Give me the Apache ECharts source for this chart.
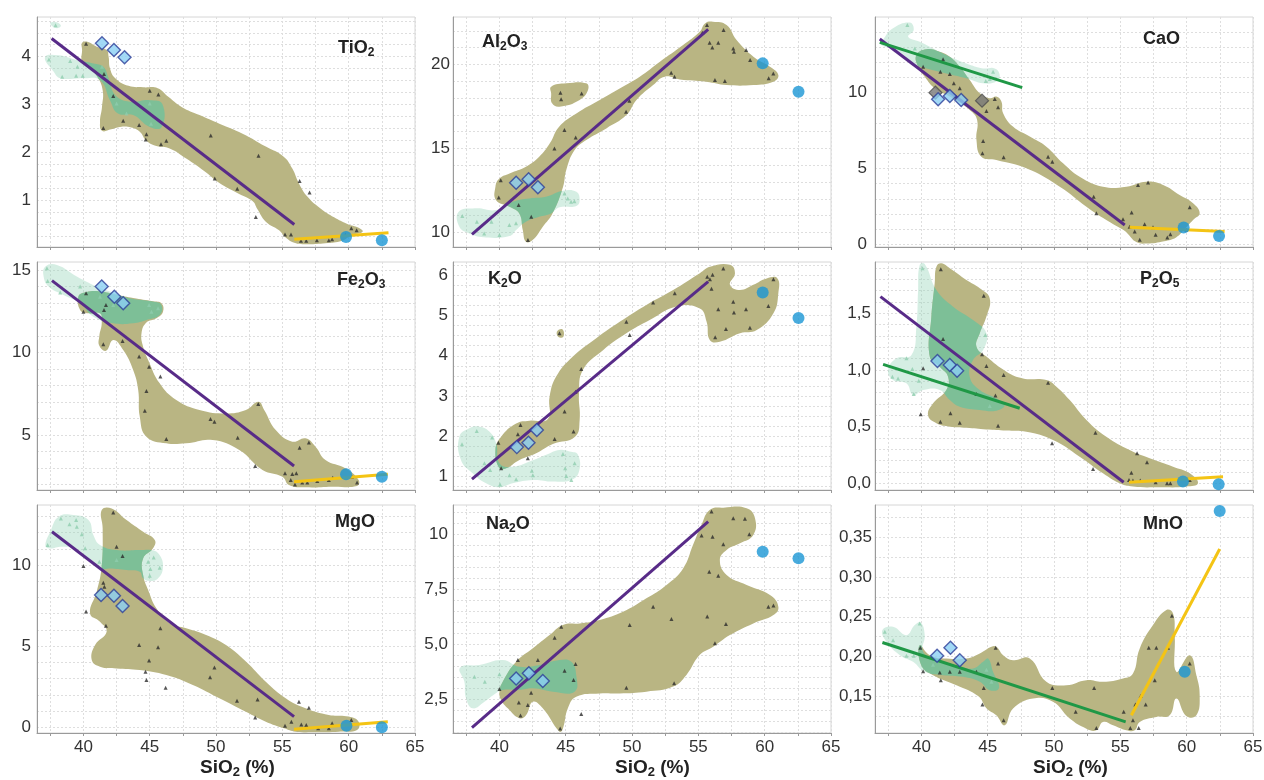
<!DOCTYPE html>
<html>
<head>
<meta charset="utf-8">
<script src="https://cdn.jsdelivr.net/npm/echarts@6.0.0/dist/echarts.min.js"></script>
<style>
html,body{margin:0;padding:0;background:#fff}
#chart{width:1264px;height:780px}
</style>
</head>
<body>
<div id="chart"></div>
<script>
// ---------- shared tick labels ----------
const xTicks = [40, 45, 50, 55, 60, 65];

// ---------- TiO2 ----------
const tiTicks = [1, 2, 3, 4];
const tiOlive = [[[39.9,4.29],[40.3,4.31],[41.0,4.21],[41.75,4.14],[41.9,4.0],[42.0,3.76],[42.4,3.55],[43.4,3.39],[44.5,3.36],[45.6,3.34],[46.4,3.16],[47.4,2.95],[48.75,2.78],[50.25,2.6],[52.0,2.39],[53.75,2.12],[55.1,1.91],[55.75,1.66],[56.25,1.35],[56.9,1.07],[57.9,0.82],[58.9,0.64],[59.9,0.5],[60.75,0.42],[61.05,0.34],[60.25,0.27],[59.5,0.15],[58.25,0.1],[56.75,0.08],[55.9,0.11],[55.25,0.22],[54.75,0.37],[53.75,0.55],[53.1,0.82],[52.75,0.98],[51.6,1.15],[50.25,1.36],[49.1,1.61],[47.75,1.87],[46.5,2.08],[45.5,2.13],[44.75,2.24],[44.25,2.43],[43.6,2.52],[42.75,2.53],[42.1,2.48],[41.4,2.45],[41.25,2.64],[41.4,2.95],[41.45,3.3],[41.0,3.6],[40.4,3.79],[39.9,3.9],[39.9,4.14]]];
const tiMint = [[[37.1,3.99],[38.1,4.03],[39.5,3.93],[40.75,3.86],[41.5,3.79],[41.9,3.55],[42.4,3.2],[43.5,3.06],[45.0,3.09],[45.95,3.01],[45.9,2.53],[45.0,2.53],[43.75,2.78],[42.6,2.81],[42.0,3.09],[41.25,3.51],[40.0,3.55],[38.25,3.55],[37.75,3.69]],[[37.5,4.7],[38.0,4.72],[38.3,4.64],[37.9,4.6]]];
const tiDark = [[40.2,4.27],[41.55,3.64],[42.25,3.18],[41.5,2.51],[43.0,2.66],[44.2,2.57],[45.0,3.29],[45.65,3.21],[44.75,2.38],[44.7,2.27],[45.85,2.17],[46.25,2.24],[49.6,2.35],[49.9,1.45],[51.6,1.24],[53.2,1.93],[53.0,0.65],[56.3,1.4],[57.05,1.16],[55.2,0.28],[55.65,0.28],[56.4,0.15],[56.8,0.15],[57.6,0.16],[58.5,0.16],[58.75,0.18],[60.2,0.41],[60.6,0.37],[59.75,0.27]];
const tiPale = [[37.9,4.66],[37.4,3.94],[39.0,3.91],[38.4,3.58],[39.45,3.6],[39.95,3.6],[39.55,3.79],[41.4,3.79],[42.5,3.02],[45.0,3.02],[45.1,2.6],[43.25,2.81]];
const tiPurple = [[37.6,4.38],[55.9,0.49]];
const tiYellow = [[55.9,0.18],[63.0,0.32]];
const tiDiamond = [[41.4,4.28],[42.3,4.14],[43.1,3.99]];
const tiCircle = [[59.8,0.23],[62.5,0.16]];

// ---------- Al2O3 ----------
const alTicks = [10, 15, 20];
const alOlive = [
  [[42.0,9.44],[41.76,10.14],[41.5,11.13],[40.76,11.53],[39.75,11.92],[39.7,12.72],[40.0,13.21],[40.76,13.51],[42.0,13.91],[43.0,14.5],[43.8,15.3],[44.5,16.29],[45.8,17.08],[47.56,17.88],[49.07,18.57],[50.58,19.27],[52.1,20.16],[53.85,21.15],[55.1,21.94],[55.5,22.44],[56.1,22.54],[57.13,22.34],[57.88,21.45],[59.15,20.46],[60.4,19.86],[61.03,19.37],[60.65,18.97],[59.15,18.77],[57.13,18.77],[55.6,18.97],[53.6,19.1],[52.47,19.27],[51.59,18.77],[50.33,17.88],[49.57,16.98],[48.06,16.19],[46.55,15.5],[45.67,14.9],[45.04,13.71],[44.8,12.72],[44.0,11.13],[43.27,10.34],[42.5,9.54]],
  [[43.9,18.67],[45.04,18.87],[46.55,18.87],[46.68,18.47],[46.05,17.88],[44.53,17.48],[43.97,17.68],[43.9,18.27]]
];
const alMint = [[[36.93,11.23],[38.24,11.43],[39.75,11.33],[41.0,11.83],[42.27,12.02],[43.5,12.12],[44.79,12.48],[45.8,12.42],[46.05,11.93],[45.8,11.57],[44.53,11.49],[43.9,11.13],[43.0,10.93],[42.0,10.63],[41.26,10.14],[40.76,9.78],[39.0,9.7],[37.73,9.94],[36.98,10.33]]];
const alDark = [[40.1,13.1],[39.95,12.08],[41.45,11.63],[42.4,10.93],[42.15,9.54],[44.15,15.0],[44.9,16.09],[45.75,15.65],[44.6,18.31],[44.65,17.92],[46.2,18.27],[49.55,17.18],[49.8,17.84],[52.95,19.5],[53.2,19.27],[55.65,22.34],[55.3,21.88],[55.85,21.29],[56.05,21.01],[56.5,21.29],[56.9,22.04],[56.25,19.07],[57.0,19.01],[57.63,20.95],[57.68,20.75],[58.6,20.85],[58.9,20.26],[60.3,19.17],[60.65,19.46]];
const alPale = [[37.2,10.97],[38.3,10.64],[38.85,9.94],[39.4,10.64],[40.0,9.84],[40.75,10.44],[41.25,10.54],[44.9,12.32],[45.15,12.02],[45.4,11.82],[45.65,11.86]];
const alPurple = [[37.93,9.88],[55.74,22.08]];
const alDiamond = [[41.26,12.96],[42.2,13.16],[42.9,12.68]];
const alCircle = [[59.85,20.06],[62.55,18.37]];

// ---------- CaO ----------
const caTicks = [0, 5, 10];
const caOlive = [[[39.62,12.48],[40.38,12.86],[41.38,12.7],[42.14,12.37],[42.89,11.71],[43.64,10.84],[44.4,9.96],[45.15,9.63],[45.65,9.74],[46.03,9.41],[46.16,8.64],[46.9,7.76],[48.17,7.1],[49.42,6.44],[50.68,5.34],[51.93,4.46],[53.69,3.8],[55.45,3.8],[56.96,4.13],[58.22,3.91],[59.47,3.25],[60.48,2.7],[60.98,2.04],[60.48,1.6],[59.85,1.0],[59.2,0.45],[58.3,0.2],[57.0,0.05],[56.2,0.15],[55.5,0.75],[55.2,0.95],[53.94,1.6],[52.44,2.48],[50.43,3.8],[47.91,5.01],[45.65,5.56],[44.52,5.78],[44.15,6.88],[44.2,8.2],[43.64,8.86],[42.14,9.74],[41.0,10.29],[40.25,11.05],[39.75,11.71]]];
const caMint = [[[37.1,13.47],[37.86,14.24],[39.12,14.62],[39.42,14.13],[39.0,13.69],[39.87,13.36],[40.88,12.92],[42.14,12.37],[43.39,11.93],[44.65,11.6],[45.53,11.6],[45.9,11.16],[45.65,10.73],[44.65,10.62],[43.39,10.95],[41.88,11.27],[40.38,11.6],[39.62,11.82],[38.12,12.81],[36.98,13.14]]];
const caDark = [[40.13,11.71],[41.43,11.38],[41.63,12.2],[42.14,11.23],[42.44,10.62],[42.89,10.29],[44.9,8.79],[45.53,9.58],[45.78,9.03],[44.65,6.81],[44.6,6.0],[46.2,5.74],[49.55,5.78],[49.87,5.45],[52.99,3.14],[53.19,2.04],[55.2,1.65],[55.85,2.09],[55.7,1.16],[56.08,0.84],[56.46,0.29],[56.33,3.91],[57.09,4.07],[56.83,1.32],[57.46,1.12],[57.66,0.62],[58.54,0.44],[58.77,0.66],[60.23,2.44],[59.97,0.95]];
const caPale = [[38.94,14.46],[39.5,12.92],[44.85,10.77],[45.15,10.9],[45.4,11.38]];
const caPurple = [[36.86,13.54],[55.33,1.27]];
const caGreen = [[36.86,13.32],[47.6,10.33]];
const caYellow = [[55.7,1.12],[62.86,0.84]];
const caDiamond = [[41.26,9.56],[42.14,9.78],[43.0,9.52]];
const caGray = [[41.06,10.0],[44.57,9.47]];
const caCircle = [[59.77,1.1],[62.44,0.55]];

// ---------- Fe2O3 ----------
const feTicks = [5, 10, 15];
const feOlive = [[[39.63,13.4],[40.2,13.65],[41.25,13.7],[42.5,13.5],[43.75,13.3],[45.25,13.1],[45.88,12.98],[46.0,12.47],[45.5,12.07],[44.75,11.81],[44.38,11.16],[44.5,10.35],[44.88,9.55],[45.75,8.13],[47.0,7.12],[48.75,6.52],[50.75,6.31],[52.25,6.52],[53.2,7.02],[53.63,6.52],[54.5,5.3],[55.75,4.6],[56.75,4.8],[57.5,4.29],[58.25,3.48],[59.75,2.98],[60.75,2.27],[60.63,1.91],[58.75,1.87],[56.75,1.83],[55.5,1.97],[55.0,2.47],[53.5,2.88],[51.75,4.09],[49.75,4.7],[47.75,4.5],[46.25,4.5],[44.75,4.9],[44.25,6.11],[44.13,7.73],[43.75,8.94],[43.0,10.15],[42.25,10.76],[41.7,10.1],[41.2,10.4],[41.2,11.0],[41.38,11.77],[41.25,12.37],[40.38,12.37],[39.75,12.58]]];
const feMint = [[[37.13,15.2],[38.0,15.3],[39.5,14.6],[41.0,13.99],[42.0,13.69],[43.5,13.28],[45.25,13.08],[45.88,12.88],[45.75,12.27],[44.75,11.97],[43.75,11.77],[42.25,11.77],[40.75,12.17],[39.75,12.98],[38.5,13.48],[37.38,13.99],[37.0,14.6]]];
const feDark = [[40.2,13.59],[40.0,12.47],[41.55,12.58],[41.7,12.88],[41.5,10.5],[42.95,10.7],[44.2,9.75],[44.95,9.14],[45.8,8.54],[44.75,7.67],[44.63,6.47],[46.25,4.76],[49.58,5.97],[49.88,5.81],[51.63,4.84],[53.18,6.88],[52.95,3.12],[55.2,2.68],[55.75,2.64],[56.05,2.68],[55.63,2.27],[55.95,2.01],[56.3,4.23],[57.0,4.54],[56.5,2.13],[56.88,2.13],[57.63,2.21],[58.5,2.27],[58.8,2.41],[60.63,2.13],[60.25,2.47]];
const fePale = [[37.25,15.1],[37.3,14.33],[38.25,13.63],[39.75,13.99],[41.25,13.38],[42.25,12.88],[44.95,12.88],[45.13,12.47],[45.63,12.68]];
const fePurple = [[37.63,14.35],[55.88,3.12]];
const feYellow = [[55.88,2.17],[62.95,2.62]];
const feDiamond = [[41.38,13.99],[42.33,13.38],[43.0,12.98]];
const feCircle = [[59.8,2.62],[62.5,2.47]];

// ---------- K2O ----------
const kTicks = [1, 2, 3, 4, 5, 6];
const kOlive = [
  [[40.0,1.19],[39.7,1.65],[40.13,1.98],[41.26,2.31],[42.27,2.38],[43.65,2.42],[43.78,2.98],[44.28,3.48],[45.54,3.98],[47.3,4.44],[49.07,4.85],[51.08,5.27],[53.1,5.64],[55.11,6.06],[55.87,6.22],[57.38,6.27],[57.76,6.06],[57.38,5.77],[58.14,5.64],[59.14,5.77],[60.15,5.93],[60.96,5.93],[61.03,5.56],[60.66,5.06],[59.4,4.64],[58.14,4.56],[56.62,4.35],[55.87,4.39],[55.62,4.85],[55.11,5.18],[53.35,5.23],[51.33,4.89],[49.57,4.56],[47.81,4.14],[46.3,3.65],[46.0,3.06],[46.05,2.4],[45.7,1.98],[44.03,1.8],[42.77,1.57],[41.51,1.4],[40.5,1.19]],
  [[44.33,4.6],[44.74,4.66],[44.84,4.49],[44.48,4.46]]
];
const kMint = [[[36.98,1.98],[37.73,2.19],[38.49,2.23],[39.24,2.11],[39.75,1.82],[40.0,1.32],[41.0,1.23],[42.27,1.36],[43.53,1.53],[44.53,1.65],[45.29,1.61],[45.92,1.53],[46.0,1.11],[45.42,0.9],[44.03,0.86],[42.52,0.9],[41.0,0.82],[40.0,0.72],[38.99,0.82],[37.98,1.07],[37.1,1.4]]];
const kDark = [[39.92,1.83],[40.13,1.19],[41.39,2.04],[41.59,2.27],[42.14,1.44],[44.16,1.92],[44.91,2.61],[45.59,2.11],[45.74,3.1],[46.17,3.67],[44.53,4.56],[49.57,4.85],[49.82,4.52],[51.59,5.33],[53.22,5.56],[55.67,5.97],[55.87,5.91],[56.07,6.02],[55.99,5.67],[56.88,6.18],[56.5,5.16],[56.27,4.46],[57.08,4.67],[57.63,5.35],[57.68,5.08],[58.59,5.16],[58.89,4.7],[60.28,5.24],[60.66,5.91]];
const kPale = [[37.18,1.79],[38.29,2.12],[38.87,1.32],[39.3,1.15],[39.45,1.96],[40.05,0.79],[40.76,1.02],[41.26,0.92],[42.52,1.02],[42.44,1.13],[44.79,1.55],[44.96,1.19],[45.04,1.0],[45.42,0.9],[45.67,1.32]];
const kPurple = [[37.93,0.92],[55.74,5.85]];
const kDiamond = [[41.31,1.72],[42.19,1.83],[42.82,2.15]];
const kCircle = [[59.85,5.58],[62.55,4.94]];

// ---------- P2O5 ----------
const pTicks = [0, 0.5, 1, 1.5];
const pOlive = [[[41.13,1.912],[41.51,1.941],[42.14,1.897],[43.39,1.794],[44.4,1.721],[45.15,1.632],[44.9,1.471],[44.4,1.324],[44.15,1.206],[44.9,1.118],[46.41,0.985],[47.66,0.926],[49.42,0.912],[50.18,0.853],[51.18,0.735],[52.44,0.559],[53.94,0.412],[55.7,0.294],[57.21,0.221],[58.97,0.147],[60.23,0.088],[60.85,0.0],[59.97,-0.029],[57.96,-0.035],[55.95,-0.029],[54.94,0.0],[53.69,0.088],[51.93,0.235],[49.92,0.382],[47.91,0.455],[46.41,0.465],[44.9,0.475],[43.39,0.49],[42.14,0.5],[41.13,0.53],[40.5,0.6],[40.88,0.706],[41.88,0.824],[42.01,0.941],[41.38,1.029],[40.63,1.118],[40.75,1.471],[41.0,1.765]]];
const pMint = [[[39.87,1.926],[40.25,1.935],[41.13,1.706],[42.39,1.559],[43.89,1.441],[44.9,1.324],[44.65,1.176],[43.89,1.088],[43.64,0.941],[44.4,0.824],[45.65,0.75],[46.28,0.691],[45.65,0.641],[44.4,0.647],[42.89,0.676],[42.14,0.735],[41.38,0.824],[40.13,0.824],[39.37,0.779],[38.87,0.882],[37.86,0.912],[37.49,1.0],[38.12,1.103],[39.25,1.132],[39.62,1.382],[39.75,1.706]]];
const pDark = [[41.46,1.888],[44.7,1.656],[41.63,1.274],[40.13,1.015],[39.95,0.609],[44.57,1.138],[44.9,1.035],[46.2,0.956],[45.58,0.774],[44.15,0.788],[42.19,0.618],[41.43,0.544],[42.89,0.535],[45.78,0.509],[49.55,0.888],[49.85,0.353],[53.12,0.447],[52.94,0.126],[56.26,0.265],[57.01,0.185],[55.83,0.094],[55.65,0.029],[55.95,0.024],[56.5,0.024],[57.66,0.009],[58.52,0.0],[58.77,0.0],[60.23,0.029]];
const pPale = [[40.08,1.897],[44.82,1.309],[38.87,1.103],[39.32,1.009],[37.81,0.941],[38.24,0.926],[39.8,0.906],[39.42,0.788],[45.15,0.682]];
const pPurple = [[36.91,1.647],[55.25,0.009]];
const pGreen = [[37.11,1.05],[47.41,0.662]];
const pYellow = [[55.65,0.009],[62.74,0.059]];
const pDiamond = [[41.21,1.079],[42.14,1.044],[42.69,0.994]];
const pCircle = [[59.72,0.015],[62.41,-0.009]];

// ---------- MgO ----------
const mgTicks = [0, 5, 10];
const mgOlive = [[[41.38,13.39],[42.13,13.49],[43.25,12.77],[44.5,12.05],[45.38,11.54],[45.25,11.03],[44.5,10.41],[44.5,9.38],[44.88,8.46],[45.5,7.33],[46.5,6.41],[47.75,6.1],[49.25,5.69],[50.75,5.07],[52.25,4.05],[53.75,2.81],[55.25,1.79],[56.75,1.17],[58.5,0.76],[60.0,0.66],[60.75,0.35],[60.63,-0.16],[59.25,-0.27],[57.5,-0.31],[56.0,-0.27],[55.13,-0.06],[53.75,0.35],[52.25,0.96],[50.25,1.79],[48.25,2.61],[46.25,3.22],[44.25,3.53],[42.5,3.63],[41.25,3.74],[40.63,4.15],[40.88,5.07],[41.75,5.89],[41.25,6.51],[40.5,7.02],[41.0,8.36],[41.38,9.94],[41.45,12.26]]];
const mgMint = [[[37.13,11.23],[37.5,12.05],[38.13,12.98],[39.25,13.08],[40.38,12.77],[40.75,11.85],[41.25,11.23],[42.5,10.92],[44.25,10.92],[45.13,10.92],[45.7,10.66],[46.0,9.9],[45.63,9.18],[45.0,9.01],[44.5,9.18],[44.25,9.59],[43.25,9.69],[42.0,9.79],[41.25,9.79],[40.25,10.51],[39.38,11.03],[38.38,11.13],[37.38,11.03]]];
const mgDark = [[40.0,9.94],[40.2,7.13],[41.7,6.26],[41.5,8.91],[41.58,8.67],[42.25,13.24],[42.5,11.13],[42.95,10.55],[44.2,5.07],[44.68,3.43],[44.75,2.92],[44.95,4.11],[45.63,4.93],[45.8,6.1],[46.2,2.44],[49.55,3.08],[49.88,3.68],[51.58,1.64],[53.13,1.72],[52.95,0.6],[55.2,0.1],[55.68,0.35],[56.25,1.58],[57.0,1.21],[56.43,0.18],[56.8,0.14],[57.7,-0.06],[58.5,-0.06],[58.75,0.25],[60.2,0.45]];
const mgPale = [[37.3,11.23],[38.3,12.87],[38.95,12.51],[39.45,12.77],[39.5,12.36],[39.88,11.89],[40.13,11.03],[41.2,10.21],[42.5,10.31],[44.88,10.21],[45.05,9.75],[45.3,10.47],[45.75,9.84],[45.0,9.34]];
const mgPurple = [[37.63,12.05],[55.88,0.66]];
const mgYellow = [[55.88,-0.12],[62.95,0.35]];
const mgDiamond = [[41.33,8.15],[42.3,8.11],[42.95,7.47]];
const mgCircle = [[59.83,0.1],[62.5,0.0]];

// ---------- Na2O ----------
const naTicks = [2.5, 5, 7.5, 10];
const naOlive = [[[40.0,2.85],[40.25,3.3],[41.26,4.21],[42.52,4.82],[43.78,5.42],[44.79,5.88],[46.05,5.95],[47.56,6.11],[49.32,6.48],[51.08,7.09],[52.6,7.7],[53.85,8.45],[54.6,9.52],[55.23,10.42],[55.87,11.11],[56.88,11.21],[58.64,11.18],[59.27,10.73],[59.14,9.97],[58.14,9.59],[57.13,9.29],[56.62,8.83],[57.13,8.15],[58.64,7.7],[60.4,7.24],[61.03,6.71],[60.66,6.33],[59.14,5.95],[57.38,5.42],[56.12,4.89],[55.11,4.52],[54.1,3.61],[53.1,3.08],[51.08,2.85],[49.07,2.77],[47.56,2.77],[45.79,2.62],[45.16,2.09],[44.79,1.18],[44.53,1.03],[43.27,2.09],[42.52,2.39],[42.02,1.79],[41.51,1.64],[40.63,2.09],[40.13,2.47]]];
const naMint = [[[37.03,3.94],[38.49,4.06],[40.25,4.29],[41.51,3.98],[43.02,4.06],[44.53,4.29],[45.42,4.21],[45.79,3.61],[45.67,2.85],[44.03,2.85],[42.52,3.0],[41.51,2.92],[40.25,2.92],[39.55,2.7],[38.87,2.39],[37.99,2.09],[37.48,2.55],[37.36,3.3]]];
const naDark = [[41.39,4.29],[40.0,2.97],[41.46,2.36],[41.59,1.76],[42.14,2.24],[42.39,2.8],[42.9,4.29],[44.16,5.3],[44.66,5.8],[44.58,1.18],[44.91,3.8],[45.59,3.38],[45.74,4.11],[46.17,1.83],[49.57,3.03],[49.82,5.88],[51.59,6.71],[52.97,6.15],[53.17,3.23],[55.67,6.26],[55.24,9.94],[55.99,11.03],[56.07,9.89],[55.82,8.3],[56.5,8.12],[56.25,5.05],[56.88,9.55],[57.08,5.92],[57.63,10.73],[58.51,10.7],[58.84,10.0],[60.28,6.71],[60.66,6.76]];
const naPale = [[38.11,3.53],[40.0,3.64],[38.9,3.3]];
const naPurple = [[37.93,1.21],[55.74,10.58]];
const naDiamond = [[41.26,3.45],[42.22,3.68],[43.27,3.33]];
const naCircle = [[59.85,9.21],[62.55,8.91]];

// ---------- MnO ----------
const mnTicks = [0.15, 0.2, 0.25, 0.3, 0.35];
const mnOlive = [[[39.87,0.2143],[40.63,0.2017],[41.88,0.1975],[43.39,0.1975],[44.4,0.2038],[45.28,0.2122],[45.65,0.2122],[46.16,0.2017],[46.91,0.1954],[48.17,0.1975],[49.42,0.1681],[50.93,0.1639],[52.44,0.1702],[53.69,0.1681],[55.2,0.1723],[55.95,0.1786],[56.46,0.2101],[57.46,0.2395],[58.47,0.2584],[58.97,0.2542],[59.1,0.2269],[59.22,0.1807],[60.23,0.2017],[60.73,0.1765],[60.98,0.1513],[60.73,0.126],[59.97,0.1252],[59.22,0.1471],[58.72,0.126],[57.71,0.1239],[56.46,0.1176],[56.08,0.1071],[55.45,0.1071],[54.45,0.1134],[53.69,0.1176],[53.19,0.1071],[52.44,0.1092],[51.18,0.1218],[49.92,0.1429],[48.42,0.1471],[46.91,0.1345],[46.28,0.1134],[45.65,0.126],[44.9,0.135],[44.3,0.15],[42.64,0.1639],[40.88,0.1765],[39.99,0.1891]]];
const mnMint = [[[37.06,0.2332],[37.86,0.2374],[38.87,0.2269],[39.5,0.2395],[39.95,0.2429],[40.25,0.2269],[40.13,0.2059],[41.38,0.1933],[42.64,0.1891],[43.89,0.1849],[44.65,0.1933],[45.03,0.1975],[45.4,0.1807],[45.85,0.1605],[45.15,0.1576],[44.4,0.1681],[43.14,0.1744],[41.63,0.1765],[40.25,0.1807],[39.37,0.1933],[38.37,0.2017],[37.36,0.2185]]];
const mnDark = [[39.92,0.2109],[40.13,0.1815],[41.38,0.1798],[41.46,0.1702],[42.14,0.1807],[42.89,0.1807],[44.15,0.1807],[44.7,0.1605],[44.6,0.1395],[45.6,0.2109],[45.78,0.1912],[46.2,0.1197],[49.87,0.1605],[51.63,0.1303],[53.02,0.1605],[53.19,0.1101],[55.25,0.1303],[55.75,0.1101],[55.95,0.1197],[56.13,0.1395],[56.38,0.1101],[56.53,0.1504],[56.91,0.1395],[57.14,0.2109],[57.71,0.2109],[57.59,0.1702],[58.59,0.2109],[58.89,0.2513],[60.23,0.1912]];
const mnPale = [[37.24,0.231],[37.86,0.2206],[38.87,0.2008],[39.42,0.2008],[39.87,0.2416],[40.88,0.1895],[44.9,0.1832],[45.28,0.1681]];
const mnGreen = [[37.06,0.2176],[55.4,0.1177]];
const mnYellow = [[55.83,0.126],[62.49,0.3353]];
const mnDiamond = [[41.18,0.2008],[42.19,0.2109],[42.89,0.1954]];
const mnCircle = [[62.49,0.383],[59.85,0.1807]];

// ---------- styling ----------
const FONT = 'Liberation Sans, Arial, sans-serif';
const OLIVE = '#b9b583';
const TEAL = 'rgba(100,195,160,0.70)';
const PALE = 'rgba(150,212,186,0.40)';
const PURPLE = '#582b88';
const YELLOW = '#f4c414';
const GREEN = '#1f9846';
const SMOOTH = 0.45;
const COL_LEFT = [37, 453, 875];
const ROW_TOP = [17, 262, 505];
const ROW_H = [230, 228, 228];
const CELL_W = 378;
const X_RANGE = [36.5, 65];

const comma = d => v => v.toFixed(d).replace('.', ',');

const panels = [
  { name: '{m|TiO}{s|2}', at: [338, 37], cell: [0, 0], y: [0.02, 4.83], step: 0.25, ticks: tiTicks, fmt: String, margin: 6,
    olive: tiOlive, mint: tiMint, dark: tiDark, pale: tiPale, lines: [[tiPurple, PURPLE], [tiYellow, YELLOW]], diamonds: tiDiamond, circles: tiCircle },
  { name: '{m|Al}{s|2}{m|O}{s|3}', at: [482, 31], cell: [1, 0], y: [9.13, 22.82], step: 1, ticks: alTicks, fmt: String, margin: 3,
    olive: alOlive, mint: alMint, dark: alDark, pale: alPale, lines: [[alPurple, PURPLE]], diamonds: alDiamond, circles: alCircle },
  { name: '{m|CaO}', at: [1143, 28], cell: [2, 0], y: [-0.18, 14.99], step: 1, ticks: caTicks, fmt: String, margin: 8,
    olive: caOlive, mint: caMint, dark: caDark, pale: caPale, lines: [[caPurple, PURPLE], [caGreen, GREEN], [caYellow, YELLOW]], diamonds: caDiamond, gray: caGray, circles: caCircle },
  { name: '{m|Fe}{s|2}{m|O}{s|3}', at: [337, 269], cell: [0, 1], y: [1.67, 15.48], step: 1, ticks: feTicks, fmt: String, margin: 6,
    olive: feOlive, mint: feMint, dark: feDark, pale: fePale, lines: [[fePurple, PURPLE], [feYellow, YELLOW]], diamonds: feDiamond, circles: feCircle },
  { name: '{m|K}{s|2}{m|O}', at: [488, 268], cell: [1, 1], y: [0.65, 6.34], step: 0.25, ticks: kTicks, fmt: String, margin: 5,
    olive: kOlive, mint: kMint, dark: kDark, pale: kPale, lines: [[kPurple, PURPLE]], diamonds: kDiamond, circles: kCircle },
  { name: '{m|P}{s|2}{m|O}{s|5}', at: [1140, 268], cell: [2, 1], y: [-0.059, 1.953], step: 0.1, ticks: pTicks, fmt: comma(1), margin: 4,
    olive: pOlive, mint: pMint, dark: pDark, pale: pPale, lines: [[pPurple, PURPLE], [pGreen, GREEN], [pYellow, YELLOW]], diamonds: pDiamond, circles: pCircle },
  { name: '{m|MgO}', at: [335, 511], cell: [0, 2], y: [-0.35, 13.7], step: 1, ticks: mgTicks, fmt: String, margin: 6,
    olive: mgOlive, mint: mgMint, dark: mgDark, pale: mgPale, lines: [[mgPurple, PURPLE], [mgYellow, YELLOW]], diamonds: mgDiamond, circles: mgCircle },
  { name: '{m|Na}{s|2}{m|O}', at: [486, 513], cell: [1, 2], y: [0.97, 11.33], step: 0.5, ticks: naTicks, fmt: v => (v === 10 ? '10' : comma(1)(v)), margin: 5,
    olive: naOlive, mint: naMint, dark: naDark, pale: naPale, lines: [[naPurple, PURPLE]], diamonds: naDiamond, circles: naCircle },
  { name: '{m|MnO}', at: [1143, 513], cell: [2, 2], y: [0.1037, 0.3907], step: 0.025, ticks: mnTicks, fmt: comma(2), margin: 3,
    olive: mnOlive, mint: mnMint, dark: mnDark, pale: mnPale, lines: [[mnGreen, GREEN], [mnYellow, YELLOW]], diamonds: mnDiamond, circles: mnCircle }
];

// gridline positions: every multiple of step inside the range
function steps(lo, hi, st) {
  const out = [];
  for (let k = Math.ceil(lo / st - 1e-9); k * st <= hi + 1e-9; k++) out.push(+(k * st).toFixed(6));
  return out;
}

const titleRich = (size, sub) => ({
  m: { fontSize: size, fontWeight: 'bold', fontFamily: FONT, color: '#222', lineHeight: 22 },
  s: { fontSize: sub, fontWeight: 'bold', fontFamily: FONT, color: '#222', lineHeight: 14, verticalAlign: 'bottom' }
});

// plain smoothed field outline, drawn through the cartesian scales
function fieldSeries(idx, polys, fill, z) {
  return {
    type: 'custom', xAxisIndex: idx, yAxisIndex: idx, z: z, silent: true,
    data: polys.map((p, i) => [p[0][0], p[0][1], i]),
    encode: { x: 0, y: 1 },
    renderItem: (params, api) => ({
      type: 'polygon',
      shape: { points: polys[params.dataIndex].map(p => api.coord(p)), smooth: SMOOTH },
      style: { fill: fill }
    })
  };
}

// green field where it overlaps the olive field: green outline clipped by each olive outline
function overlapSeries(idx, mint, olive, fill, z) {
  return {
    type: 'custom', xAxisIndex: idx, yAxisIndex: idx, z: z, silent: true,
    data: mint.map((p, i) => [p[0][0], p[0][1], i]),
    encode: { x: 0, y: 1 },
    renderItem: (params, api) => {
      const pts = mint[params.dataIndex].map(p => api.coord(p));
      return {
        type: 'group',
        children: olive.map(o => ({
          type: 'polygon',
          shape: { points: pts, smooth: SMOOTH },
          style: { fill: fill },
          clipPath: { type: 'polygon', shape: { points: o.map(p => api.coord(p)), smooth: SMOOTH } }
        }))
      };
    }
  };
}

function scatter(idx, data, symbol, size, itemStyle, z) {
  return { type: 'scatter', xAxisIndex: idx, yAxisIndex: idx, z: z, silent: true,
    symbol: symbol, symbolSize: size, itemStyle: itemStyle, data: data };
}

const grids = [], xAxes = [], yAxes = [], series = [], titles = [];
const xGridVals = steps(X_RANGE[0], X_RANGE[1], 2.5);

panels.forEach((p, i) => {
  const [c, r] = p.cell;
  grids.push({ left: COL_LEFT[c], top: ROW_TOP[r], width: CELL_W, height: ROW_H[r],
    show: true, borderColor: '#d6d6d6', borderWidth: 1, outerBoundsMode: 'none' });
  xAxes.push({
    type: 'value', gridIndex: i, min: X_RANGE[0], max: X_RANGE[1],
    axisLine: { show: true, onZero: false, lineStyle: { color: '#9a9a9a', width: 1 } },
    axisTick: { show: true, length: 3, customValues: xGridVals, lineStyle: { color: '#9a9a9a' } },
    axisLabel: { show: r === 2, customValues: xTicks, fontSize: 17, fontFamily: FONT, color: '#333', margin: 6 },
    splitLine: { show: true, lineStyle: { color: '#dedede', width: 1, type: [2, 2] } }
  });
  yAxes.push({
    type: 'value', gridIndex: i, min: p.y[0], max: p.y[1],
    axisLine: { show: true, onZero: false, lineStyle: { color: '#9a9a9a', width: 1 } },
    axisTick: { show: false, customValues: steps(p.y[0], p.y[1], p.step) },
    axisLabel: { customValues: p.ticks, formatter: p.fmt, fontSize: 17, fontFamily: FONT, color: '#333', margin: p.margin },
    splitLine: { show: true, lineStyle: { color: '#dedede', width: 1, type: [2, 2] } }
  });
  titles.push({ text: p.name, left: p.at[0], top: p.at[1], padding: 0,
    textStyle: { rich: titleRich(18, 12) } });

  // pale green field underneath, olive field over it, then the overlap in teal
  series.push(fieldSeries(i, p.mint, PALE, 1));
  series.push(fieldSeries(i, p.olive, OLIVE, 2));
  series.push(overlapSeries(i, p.mint, p.olive, TEAL, 3));

  series.push(scatter(i, p.pale, 'triangle', 4, { color: '#8ecdae' }, 4));
  series.push(scatter(i, p.dark, 'triangle', 4, { color: '#2c2c2c' }, 4));

  p.lines.forEach(([pts, color]) => {
    series.push({ type: 'line', xAxisIndex: i, yAxisIndex: i, z: 5, silent: true,
      data: pts, symbol: 'none', lineStyle: { color: color, width: 3 } });
  });

  if (p.gray) series.push(scatter(i, p.gray, 'diamond', 13, { color: '#787878', borderColor: '#4d4d4d', borderWidth: 1.2 }, 6));
  series.push(scatter(i, p.diamonds, 'diamond', 13, { color: '#8bcff4', borderColor: '#2d3f98', borderWidth: 1.4 }, 6));
  series.push(scatter(i, p.circles, 'circle', 12, { color: '#1a96d4' }, 7));
});

// x-axis titles under the bottom row
[200, 615, 1033].forEach(left => {
  titles.push({ text: '{m|SiO}{s|2}{m| (%)}', left: left, top: 757, padding: 0,
    textStyle: { rich: titleRich(19, 13) } });
});

const chart = echarts.init(document.getElementById('chart'), null, { renderer: 'canvas' });
chart.setOption({
  backgroundColor: '#ffffff',
  animation: false,
  title: titles,
  grid: grids,
  xAxis: xAxes,
  yAxis: yAxes,
  series: series
});
</script>
</body>
</html>
